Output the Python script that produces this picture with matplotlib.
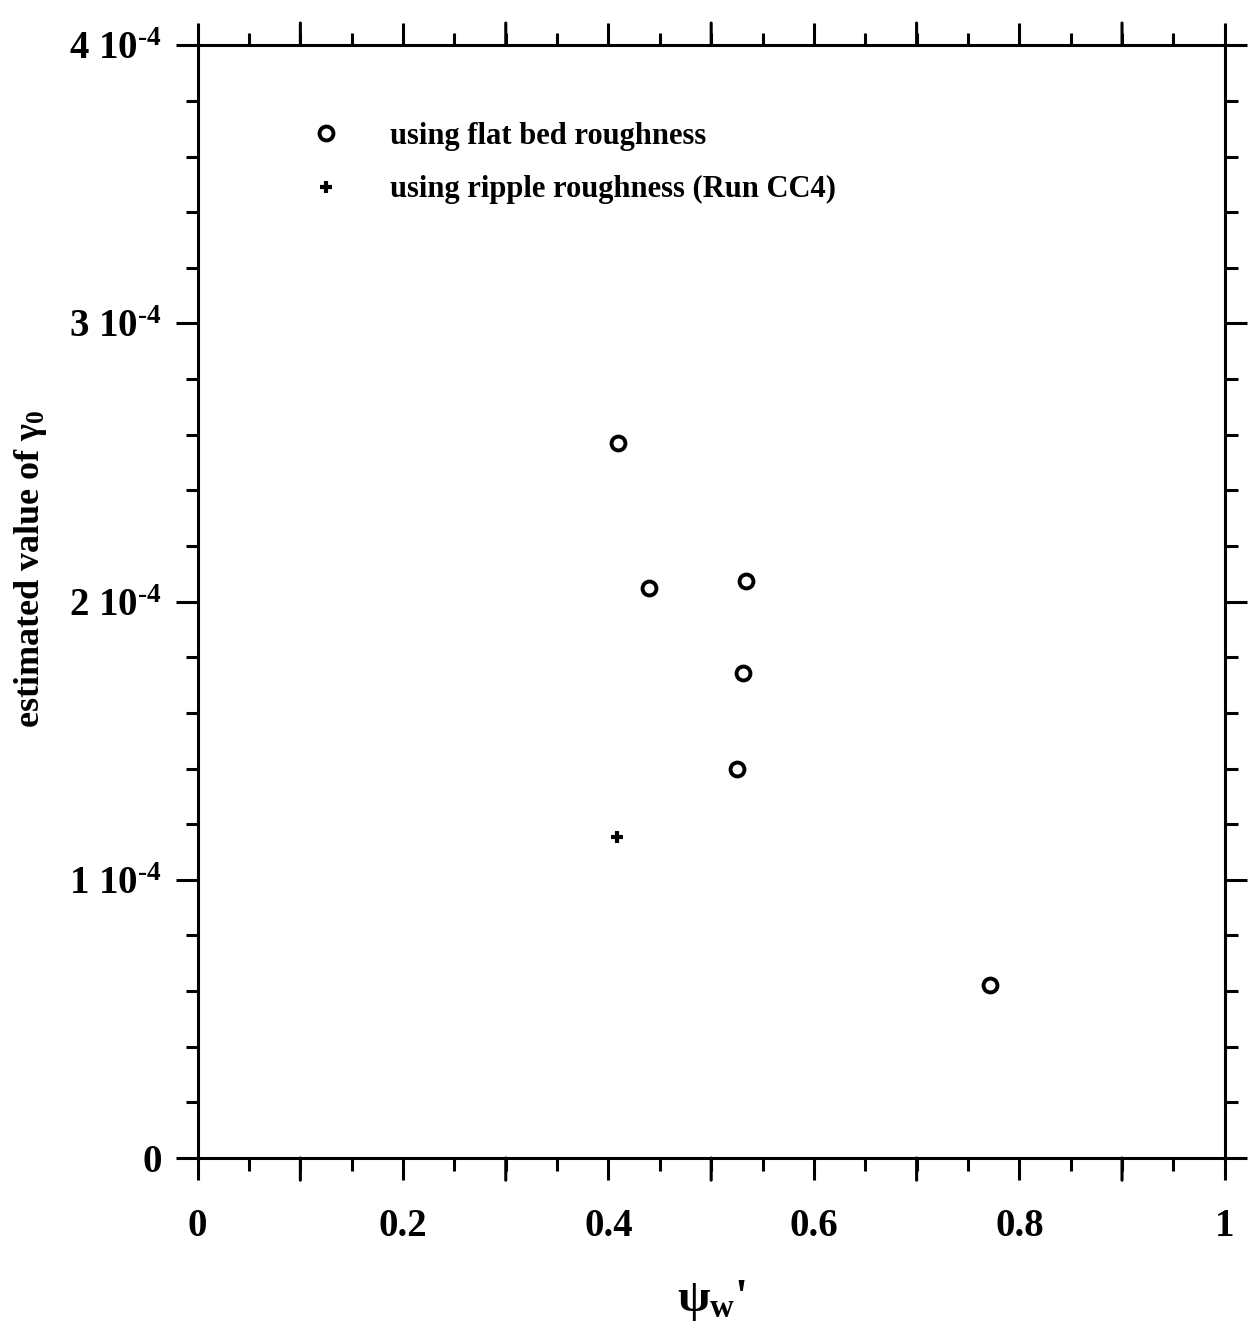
import numpy as np
import matplotlib.pyplot as plt
from matplotlib.ticker import MultipleLocator, FixedLocator

plt.rcParams['font.family'] = ['Liberation Serif', 'DejaVu Serif']
plt.rcParams['font.weight'] = 'bold'
plt.rcParams['axes.labelweight'] = 'bold'
plt.rcParams['mathtext.fontset'] = 'custom'
plt.rcParams['mathtext.rm'] = 'Liberation Serif:bold'
plt.rcParams['mathtext.it'] = 'Liberation Serif:bold'
plt.rcParams['mathtext.bf'] = 'Liberation Serif:bold'

# flat bed roughness estimates
psi_flat = [0.409, 0.439, 0.534, 0.531, 0.525, 0.771]
gamma_flat = [2.57e-4, 2.05e-4, 2.075e-4, 1.745e-4, 1.40e-4, 0.62e-4]
# ripple roughness (Run CC4)
psi_ripple = [0.408]
gamma_ripple = [1.155e-4]

ytick_vals = [0, 1e-4, 2e-4, 3e-4, 4e-4]
ytick_labels = ['0', r'1 10$^{\text{-4}}$', r'2 10$^{\text{-4}}$',
                r'3 10$^{\text{-4}}$', r'4 10$^{\text{-4}}$']
xtick_vals = [0, 0.2, 0.4, 0.6, 0.8, 1.0]
xtick_labels = ['0', '0.2', '0.4', '0.6', '0.8', '1']

fig = plt.figure(figsize=(12.51, 13.31), dpi=100)
ax = fig.add_axes([0.158, 0.130, 0.821, 0.836])

ax.plot(psi_flat, gamma_flat, 'o', ms=10, mfc='white', mec='black', mew=2.8,
        label='using flat bed roughness', linestyle='none')
ax.plot(psi_ripple, gamma_ripple, '+', ms=8, mec='black', mew=3,
        label='using ripple roughness (Run CC4)', linestyle='none')

ax.set_xlim(0, 1)
ax.set_ylim(0, 4e-4)

ax.xaxis.set_major_locator(FixedLocator(xtick_vals))
ax.set_xticklabels(xtick_labels)
ax.xaxis.set_minor_locator(MultipleLocator(0.05))
ax.yaxis.set_major_locator(FixedLocator(ytick_vals))
ax.set_yticklabels(ytick_labels)
ax.yaxis.set_minor_locator(MultipleLocator(2e-5))

for s in ax.spines.values():
    s.set_linewidth(2.2)

ax.tick_params(which='both', direction='out', top=True, right=True, width=2.2)
ax.tick_params(which='major', length=16, labelsize=28, pad=10)
ax.tick_params(axis='x', which='major', pad=20)
ax.tick_params(which='minor', length=9)
# 0.1 ticks longer than 0.05 ticks on the x axes
for x in [0.1, 0.3, 0.5, 0.7, 0.9]:
    for yv, sgn in [(0, -1), (4e-4, 1)]:
        ax.annotate('', xy=(x, yv), xycoords=('data', 'data'),
                    xytext=(0, sgn * 16), textcoords='offset points',
                    arrowprops=dict(arrowstyle='-', lw=2.2, shrinkA=0, shrinkB=0),
                    annotation_clip=False)

ax.set_ylabel(r'estimated value of $\gamma_0$', fontsize=26, labelpad=14)
ax.yaxis.set_label_coords(-0.145, 0.53)
ax.set_xlabel(r"$\psi_{w}$'", fontsize=34, labelpad=24)

ax.legend(loc='upper left', bbox_to_anchor=(0.083, 0.956), frameon=False,
          fontsize=22, handlelength=1.0, handletextpad=1.6, labelspacing=0.8,
          numpoints=1)

fig.savefig('out.png', dpi=100)
